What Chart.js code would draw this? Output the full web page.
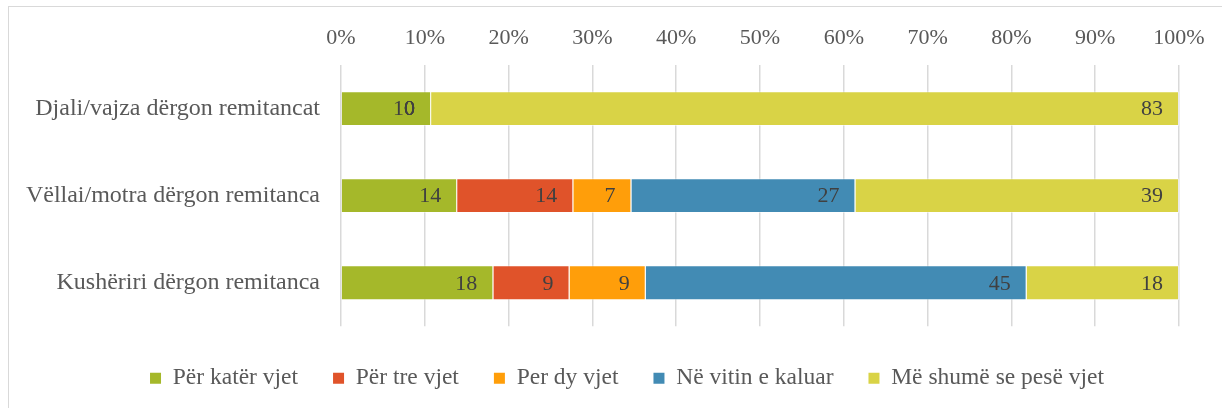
<!DOCTYPE html>
<html>
<head>
<meta charset="utf-8">
<script src="https://cdn.jsdelivr.net/npm/chart.js@4/dist/chart.umd.min.js"></script>
<style>
    html, body { margin: 0; padding: 0; background: #fff; overflow: hidden; }
    #box { position: absolute; left: 8px; top: 6px; width: 1236px; height: 420px; border: 1px solid #d9d9d9; }
    #box canvas { display: block; }
</style>
</head>
<body>
<div id="box"><canvas id="chart-area" width="1236" height="393"></canvas></div>
<script>
var categories = ['Djali/vajza dërgon remitancat', 'Vëllai/motra dërgon remitanca', 'Kushëriri dërgon remitanca'];
var seriesNames = ['Për katër vjet', 'Për tre vjet', 'Per dy vjet', 'Në vitin e kaluar', 'Më shumë se pesë vjet'];

var katerVjet = [10, 14, 18];
var treVjet = [0, 14, 9];
var dyVjet = [0, 7, 9];
var vitinKaluar = [0, 27, 45];
var mePeseVjet = [83, 39, 18];

var tickLabels = ['0%', '10%', '20%', '30%', '40%', '50%', '60%', '70%', '80%', '90%', '100%'];

var seriesColors = ['#a5b82a', '#e0532a', '#ff9e0a', '#428bb4', '#d9d346'];

var allSeries = [katerVjet, treVjet, dyVjet, vitinKaluar, mePeseVjet];

// each row is stretched to 100%
var totals = categories.map(function (c, j) {
    var s = 0;
    for (var i = 0; i < allSeries.length; i++) s += allSeries[i][j];
    return s;
});

var datasets = allSeries.map(function (values, i) {
    return {
        label: seriesNames[i],
        values: values,
        data: values.map(function (v, j) { return v / totals[j] * 100; }),
        backgroundColor: seriesColors[i],
        borderColor: 'rgba(255,255,255,0.45)',
        borderWidth: 1,
        barPercentage: 0.4,
        categoryPercentage: 1
    };
});

// value labels at the inner end of each segment
var valueLabels = {
    id: 'valueLabels',
    afterDatasetsDraw: function (chart) {
        var ctx = chart.ctx;
        ctx.save();
        ctx.font = '22px "Liberation Serif"';
        ctx.fillStyle = '#404040';
        ctx.textAlign = 'right';
        ctx.textBaseline = 'middle';
        chart.data.datasets.forEach(function (ds, i) {
            chart.getDatasetMeta(i).data.forEach(function (bar, j) {
                ctx.fillText(String(ds.values[j]), bar.x - 16, bar.y + 1);
            });
        });
        ctx.restore();
    }
};

var config = {
    type: 'bar',
    data: {
        labels: categories,
        datasets: datasets
    },
    options: {
        indexAxis: 'y',
        responsive: false,
        animation: false,
        layout: { padding: 0 },
        scales: {
            x: {
                position: 'top',
                stacked: true,
                min: 0,
                max: 100,
                grid: { color: '#d9d9d9', lineWidth: 1.5, drawTicks: false },
                border: { display: false },
                ticks: {
                    stepSize: 10,
                    padding: 14,
                    color: '#595959',
                    font: { family: 'Liberation Serif', size: 22 },
                    callback: function (v, i) { return tickLabels[i]; }
                },
                afterFit: function (s) { s.height = 58; }
            },
            y: {
                stacked: true,
                grid: { display: false },
                border: { display: false },
                ticks: {
                    padding: 13,
                    color: '#595959',
                    font: { family: 'Liberation Serif', size: 24 }
                },
                afterFit: function (s) { s.width = 332; }
            },
            yRight: {
                type: 'category',
                axis: 'y',
                position: 'right',
                grid: { display: false },
                border: { display: false },
                ticks: { display: false },
                afterFit: function (s) { s.width = 66; }
            }
        },
        plugins: {
            tooltip: { enabled: false },
            legend: {
                position: 'bottom',
                // empty title only adds a little space above the items
                title: { display: true, text: '', padding: { top: 4, bottom: 0 }, font: { size: 1 } },
                labels: {
                    boxWidth: 11,
                    boxHeight: 11,
                    padding: 35,
                    color: '#595959',
                    font: { family: 'Liberation Serif', size: 23.5 },
                    generateLabels: function (chart) {
                        var items = Chart.defaults.plugins.legend.labels.generateLabels(chart);
                        items.forEach(function (it) { it.lineWidth = 0; });
                        return items;
                    }
                }
            }
        }
    },
    plugins: [valueLabels]
};

var ctx = document.getElementById('chart-area').getContext('2d');
window.myBar = new Chart(ctx, config);
</script>
</body>
</html>
